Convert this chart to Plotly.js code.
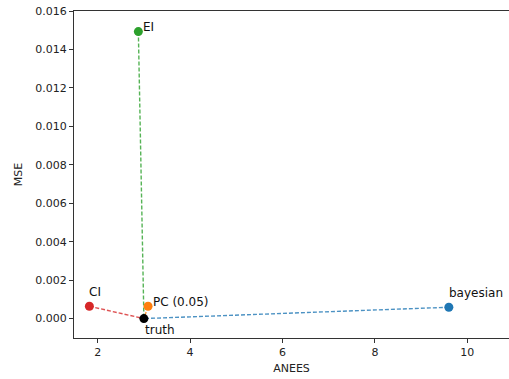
<!DOCTYPE html>
<html>
<head>
<meta charset="utf-8">
<script src="https://cdn.plot.ly/plotly-3.0.1.min.js"></script>
<style>html,body{margin:0;padding:0;background:#fff;overflow:hidden}</style>
</head>
<body>
<div id="chart" style="width:509px;height:379px"></div>
<script>
// Data
const methods = ["bayesian", "PC (0.05)", "EI", "CI"];
const anees = [9.60, 3.09, 2.88, 1.82];
const mse = [0.00059, 0.00064, 0.01493, 0.00064];
const truthName = "truth";
const truthAnees = [3.0];
const truthMse = [0.0];

// Styles
const colors = ["#1f77b4", "#ff7f0e", "#2ca02c", "#d62728"];
const labelShift = [[-2, 14], [3, 4], [3, 5], [-2, 14]];
const truthShift = [-1, -11];

const traces = [];
methods.forEach((m, i) => {
  traces.push({
    x: [anees[i], truthAnees[0]], y: [mse[i], truthMse[0]],
    mode: "lines", type: "scatter", showlegend: false, hoverinfo: "skip",
    line: {color: colors[i], dash: "4px,2px", width: 1.4}, opacity: 0.8
  });
});
methods.forEach((m, i) => {
  traces.push({
    x: [anees[i]], y: [mse[i]], mode: "markers", type: "scatter", name: m,
    showlegend: false, marker: {color: colors[i], size: 9}
  });
});
traces.push({
  x: truthAnees, y: truthMse, mode: "markers", type: "scatter", name: truthName,
  showlegend: false, marker: {color: "#000000", size: 9}
});

const annotations = methods.map((m, i) => ({
  x: anees[i], y: mse[i], xref: "x", yref: "y", text: m, showarrow: false,
  xanchor: "left", yanchor: "middle", xshift: labelShift[i][0], yshift: labelShift[i][1],
  font: {family: "DejaVu Sans", size: 12, color: "#111"}
}));
annotations.push({
  x: truthAnees[0], y: truthMse[0], xref: "x", yref: "y", text: truthName, showarrow: false,
  xanchor: "left", yanchor: "middle", xshift: truthShift[0], yshift: truthShift[1],
  font: {family: "DejaVu Sans", size: 12, color: "#111"}
});

const axisFont = {family: "DejaVu Sans", size: 11, color: "#222"};
const layout = {
  width: 509, height: 379,
  margin: {l: 74, r: 0, t: 11, b: 41},
  paper_bgcolor: "#fff", plot_bgcolor: "#fff",
  font: {family: "DejaVu Sans"},
  xaxis: {
    range: [1.487, 10.902], tick0: 0, dtick: 2, showgrid: false, zeroline: false,
    showline: true, mirror: true, linecolor: "#333", linewidth: 1,
    ticks: "outside", ticklen: 4, tickcolor: "#333", tickfont: axisFont,
    title: {text: "ANEES", font: axisFont, standoff: 6}
  },
  yaxis: {
    range: [-0.00101, 0.016], tick0: 0, dtick: 0.002, tickformat: ".3f",
    showgrid: false, zeroline: false,
    showline: true, mirror: false, linecolor: "#333", linewidth: 1,
    ticks: "outside", ticklen: 4, tickcolor: "#333", tickfont: axisFont,
    title: {text: "MSE", font: axisFont, standoff: 10}
  },
  annotations: annotations
};
Plotly.newPlot("chart", traces, layout, {displayModeBar: false, staticPlot: true});
</script>
</body>
</html>
